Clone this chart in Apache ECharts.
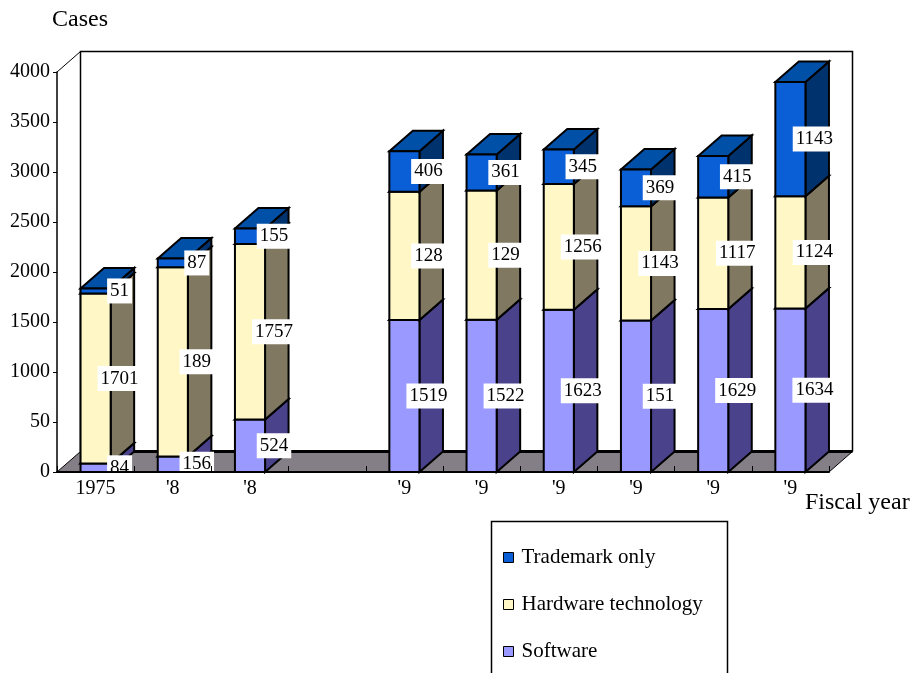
<!DOCTYPE html>
<html>
<head>
<meta charset="utf-8">
<script src="https://cdn.jsdelivr.net/npm/echarts@6/dist/echarts.min.js"></script>
<style>
  html, body { margin: 0; padding: 0; background: #ffffff; }
  #chart { width: 917px; height: 673px; }
</style>
</head>
<body>
<div id="chart"></div>
<script>
// Fiscal years along the category axis (one empty slot between the two groups)
const years = ['1975', "'8", "'8", '', "'9", "'9", "'9", "'9", "'9", "'9"];
// Value-axis tick labels, bottom to top
const yTickLabels = ['0', '50', '1000', '1500', '2000', '2500', '3000', '3500', '4000'];

// Cases per category, stacked bottom to top
const software  = [84, 156, 524, null, 1519, 1522, 1623, 1514, 1629, 1634];
const hardware  = [1701, 1891, 1757, null, 1283, 1293, 1256, 1143, 1117, 1124];
const trademark = [51, 87, 155, null, 406, 361, 345, 369, 415, 1143];

// Text printed in the data-label boxes
const softwareLabels  = ['84', '156', '524', '', '1519', '1522', '1623', '151', '1629', '1634'];
const hardwareLabels  = ['1701', '189', '1757', '', '128', '129', '1256', '1143', '1117', '1124'];
const trademarkLabels = ['51', '87', '155', '', '406', '361', '345', '369', '415', '1143'];

const SERIF = '"Liberation Serif", "Times New Roman", serif';
// Oblique projection of the depth axis
const DX = 23.5, DY = -20.5;
const BAR_RATIO = 0.39;

function segmentRenderer(values, labels, below, faces) {
  return function (params, api) {
    const i = params.dataIndex;
    const v = values[i];
    if (v == null) return;
    let base = 0;
    below.forEach(function (arr) { base += arr[i] || 0; });
    const bottom = api.coord([i, base]);
    const top = api.coord([i, base + v]);
    const w = api.size([1, 0])[0] * BAR_RATIO;
    const x0 = bottom[0] - w / 2, x1 = bottom[0] + w / 2;
    const yb = bottom[1], yt = top[1];
    const edge = { stroke: '#000', lineWidth: 2, lineJoin: 'miter' };
    return {
      type: 'group',
      children: [
        {
          type: 'polygon',
          shape: { points: [[x1, yb], [x1 + DX, yb + DY], [x1 + DX, yt + DY], [x1, yt]] },
          style: Object.assign({ fill: faces.side }, edge)
        },
        {
          type: 'polygon',
          shape: { points: [[x0, yt], [x1, yt], [x1 + DX, yt + DY], [x0 + DX, yt + DY]] },
          style: Object.assign({ fill: faces.top }, edge)
        },
        {
          type: 'rect',
          shape: { x: x0, y: yt, width: w, height: yb - yt },
          style: Object.assign({ fill: faces.front }, edge)
        },
        {
          type: 'text',
          z2: 100,
          style: {
            text: labels[i],
            x: bottom[0] + 24,
            y: (yb + yt) / 2,
            align: 'center',
            verticalAlign: 'middle',
            fill: '#000',
            font: '19px ' + SERIF,
            backgroundColor: '#ffffff',
            padding: [3, 3]
          }
        }
      ]
    };
  };
}

// Floor and back walls of the 3-D plot area
function frameRenderer(params, api) {
  const cs = params.coordSys;
  const gx = cs.x, gy = cs.y, gw = cs.width, gh = cs.height;
  const fb = gy + gh;
  return {
    type: 'group',
    children: [
      {
        type: 'polygon',
        shape: { points: [[gx, fb], [gx + gw, fb], [gx + gw + DX, fb + DY], [gx + DX, fb + DY]] },
        style: { fill: '#847e86', stroke: '#000', lineWidth: 1 }
      },
      {
        type: 'line',
        shape: { x1: gx + DX, y1: fb + DY, x2: gx + gw + DX, y2: fb + DY },
        style: { stroke: '#000', lineWidth: 3 }
      },
      {
        type: 'polyline',
        shape: { points: [[gx + DX, fb + DY], [gx + DX, gy + DY], [gx + gw + DX, gy + DY], [gx + gw + DX, fb + DY]] },
        style: { stroke: '#000', lineWidth: 1.5, fill: null }
      },
      {
        type: 'line',
        shape: { x1: gx, y1: gy, x2: gx + DX, y2: gy + DY },
        style: { stroke: '#000', lineWidth: 1 }
      }
    ]
  };
}

const idx = years.map(function (_, i) { return [i, 0]; });

const chart = echarts.init(document.getElementById('chart'), null, { renderer: 'canvas' });
chart.setOption({
  backgroundColor: '#ffffff',
  animation: false,
  grid: { left: 57, right: 88, top: 72, bottom: 201 },
  xAxis: {
    type: 'category',
    data: years,
    z: 10,
    axisLine: { lineStyle: { color: '#000', width: 2 } },
    axisTick: { show: true, inside: true, length: 6, lineStyle: { color: '#000', width: 1 } },
    axisLabel: { color: '#000', fontFamily: SERIF, fontSize: 20, margin: 7, interval: 0 },
    splitLine: { show: false }
  },
  yAxis: {
    type: 'value',
    min: 0,
    max: 4000,
    interval: 500,
    z: 10,
    axisLine: { show: true, lineStyle: { color: '#000', width: 1.5 } },
    axisTick: { show: true, length: 4, lineStyle: { color: '#000', width: 1 } },
    axisLabel: {
      color: '#000', fontFamily: SERIF, fontSize: 20, margin: 7,
      formatter: function (v) { return yTickLabels[Math.round(v / 500)]; }
    },
    splitLine: { show: false }
  },
  legend: {
    orient: 'vertical',
    left: 498,
    top: 542,
    itemGap: 26,
    itemWidth: 10,
    itemHeight: 10,
    icon: 'rect',
    itemStyle: { borderColor: '#000', borderWidth: 1 },
    textStyle: { color: '#000', fontFamily: SERIF, fontSize: 21, padding: [0, 0, 0, 3] },
    data: ['Trademark only', 'Hardware technology', 'Software']
  },
  graphic: [
    {
      type: 'rect',
      shape: { x: 491.5, y: 521.5, width: 236, height: 180 },
      style: { fill: null, stroke: '#000', lineWidth: 1.5 }
    },
    {
      type: 'text',
      style: { text: 'Cases', x: 52, y: 20, verticalAlign: 'middle', font: '24px ' + SERIF, fill: '#000' }
    },
    {
      type: 'text',
      style: { text: 'Fiscal year', x: 805, y: 503, verticalAlign: 'middle', font: '24px ' + SERIF, fill: '#000' }
    }
  ],
  series: [
    {
      name: 'frame',
      type: 'custom',
      z: 1,
      silent: true,
      data: [[0, 0]],
      renderItem: frameRenderer
    },
    {
      name: 'Software',
      type: 'custom',
      itemStyle: { color: '#9999ff' },
      data: idx,
      renderItem: segmentRenderer(software, softwareLabels, [],
        { front: '#9999ff', side: '#4b428c', top: '#7474d8' })
    },
    {
      name: 'Hardware technology',
      type: 'custom',
      itemStyle: { color: '#fff8c6' },
      data: idx,
      renderItem: segmentRenderer(hardware, hardwareLabels, [software],
        { front: '#fff8c6', side: '#807860', top: '#d8d0a0' })
    },
    {
      name: 'Trademark only',
      type: 'custom',
      itemStyle: { color: '#0a5fd6' },
      data: idx,
      renderItem: segmentRenderer(trademark, trademarkLabels, [software, hardware],
        { front: '#0a5fd6', side: '#00336e', top: '#0050a8' })
    }
  ]
});
</script>
</body>
</html>
